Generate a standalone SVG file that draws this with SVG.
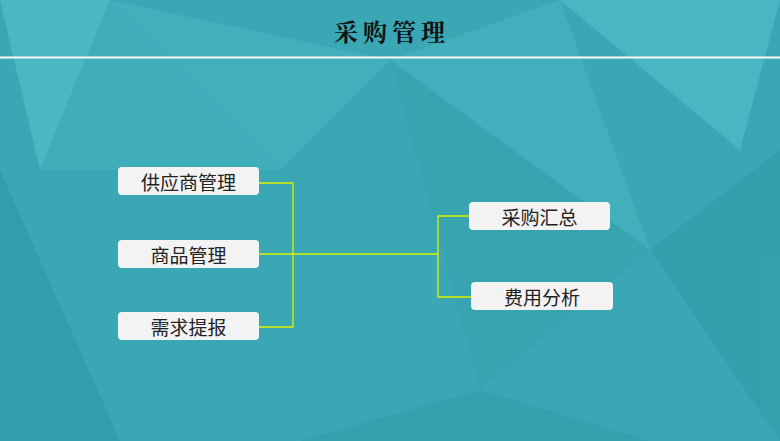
<svg xmlns="http://www.w3.org/2000/svg" width="780" height="441" viewBox="0 0 780 441">
<style>
.box{fill:#f3f3f3;}
.t{font-family:"Noto Sans CJK SC",sans-serif;font-size:19px;fill:#222;text-anchor:middle;dominant-baseline:central;}
.c{fill:none;stroke:#e0f000;stroke-width:1.3;}
.p{stroke:none;}
</style>
<rect width="780" height="441" fill="#3aa8b4"/>
<g opacity="0.5">
<polygon class="p" points="0,0 110,0 40,170" fill="#5cc6cf"/>
<polygon class="p" points="110,0 390,60 280,170" fill="#4ab8c3"/>
<polygon class="p" points="40,170 280,170 110,0" fill="#46b5bf"/>
<polygon class="p" points="390,60 560,0 650,250" fill="#4ab9c4"/>
<polygon class="p" points="560,0 780,0 740,150" fill="#5ac5ce"/>
<polygon class="p" points="650,250 780,150 780,441" fill="#2f99a6"/>
<polygon class="p" points="0,170 120,441 0,441" fill="#2e96a3"/>
<polygon class="p" points="300,441 480,390 650,441" fill="#3399a6"/>
<polygon class="p" points="390,60 480,390 650,250" fill="#36a2ae"/>
</g>
<text x="392" y="30" style="font-family:'Noto Serif CJK SC','Noto Sans CJK SC',sans-serif;font-size:24px;font-weight:bold;fill:#111;text-anchor:middle;dominant-baseline:central;letter-spacing:5px">采购管理</text>
<line x1="0" y1="57.5" x2="780" y2="57.5" stroke="#fff" stroke-width="2"/>
<g id="connectors">
<path class="c" d="M259 183H293V327H259M259 254H438M469 216H438V297H471"/>
</g>
<g id="n1"><rect class="box" x="118" y="167" width="141" height="28" rx="4"/><text class="t" x="188.5" y="181">供应商管理</text></g>
<g id="n2"><rect class="box" x="118" y="240" width="141" height="28" rx="4"/><text class="t" x="188.5" y="254">商品管理</text></g>
<g id="n3"><rect class="box" x="118" y="312" width="141" height="28" rx="4"/><text class="t" x="188.5" y="326">需求提报</text></g>
<g id="n4"><rect class="box" x="469" y="202" width="141" height="28" rx="4"/><text class="t" x="539.5" y="216">采购汇总</text></g>
<g id="n5"><rect class="box" x="471" y="282" width="142" height="28" rx="4"/><text class="t" x="542" y="296">费用分析</text></g>
</svg>
